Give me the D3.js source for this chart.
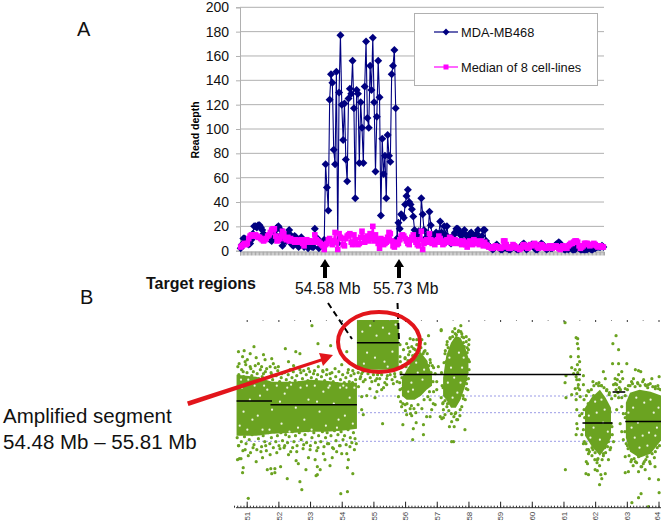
<!DOCTYPE html>
<html><head><meta charset="utf-8">
<script src="https://cdn.jsdelivr.net/npm/d3@7/dist/d3.min.js"></script>
<style>html,body{margin:0;padding:0;background:#fff}svg{display:block}text{font-family:"Liberation Sans",Arial,sans-serif}</style>
</head><body><svg id="c" width="661" height="523"></svg>
<script>
// ---------- Panel A data ----------
const depthTicks = [0,20,40,60,80,100,120,140,160,180,200];
const seriesNames = ["MDA-MB468","Median of 8 cell-lines"];
const mdaLeft = [2,5,10,10,8,6,5,6,9,14,20,20,19,21,21,19,17,14,12,11,12,10,9,8,10,14,17,19,20,18,13,4,7,10,8,14,17,13,5,4,12,11,5,3,8,11,9,3,6,7,2,4,5,3,3,18,8,10,2,6,5,7,9];
const mdaAmplified = [71,52,33,124,145,138,83,71,147,6,130,177,120,91,121,75,57,125,133,129,156,117,43,132,129,72,122,101,72,135,172,109,101,152,132,175,122,65,110,156,126,29,92,63,78,43,95,78,73,145,152,165,117];
const mdaRight = [10,23,18,30,29,27,38,45,50,40,38,34,28,17,9,12,16,10,43,30,17,10,8,14,32,21,13,9,12,15,10,14,24,15,8,20,13,20,11,7,6,9,13,15,18,18,16,13,9,14,17,13,8,10,14,15,13,11,8,14,17,10,7,12,17,17,8,5,4,3,2,1,2,4,5,3,2,1,1,2,3,2,2,1,1,2,4,3,2,1,1,2,3,5,6,3,1,2,3,4,5,4,2,1,1,3,4,6,5,3,2,1,2,3,2,2,3,4,5,6,7,6,4,2,1,1,2,1,2,3,1,1,1,2,3,2,1,1,1,1,1,1,2,2,1,1,2,2,3,3,3,3,4,3];
const medianLeft = [3,4,5,6,5,6,10,12,13,13,12,13,12,11,11,10,9,8,9,10,12,13,15,17,18,18,12,8,9,10,12,16,14,10,9,11,8,10,9,8,7,9,8,7,8,9,6,4,8,9,7,8,7,8,7,13,9,8,7,6,5,4,1];
const medianAmplified = [5,6,9,10,8,5,8,15,7,1,14,11,10,5,4,10,12,13,14,7,5,13,9,6,5,6,11,16,11,7,9,12,8,14,10,20,8,13,9,6,2,10,9,5,6,7,11,15,14,8,4,3,7];
const medianRight = [5,6,9,12,13,12,10,8,6,5,9,11,13,9,7,5,4,9,16,1,6,8,9,7,14,9,6,8,5,7,9,12,10,7,5,6,8,9,7,11,10,6,8,9,7,6,8,6,5,8,7,5,3,6,8,7,5,9,8,6,7,5,8,6,4,7,5,4,3,3,2,2,3,4,3,3,2,2,3,8,8,5,3,2,2,3,5,4,3,2,2,1,2,4,5,4,3,2,3,5,4,5,6,5,3,2,3,5,4,3,2,2,3,4,3,2,3,4,4,3,2,1,3,4,3,2,2,4,5,6,6,7,8,8,7,4,2,3,4,6,6,6,5,4,5,5,6,5,4,3,4,4,3,3];
const mda = [...mdaLeft,...mdaAmplified,...mdaRight];
const median = [...medianLeft,...medianAmplified,...medianRight];

// ---------- Panel B data (Mb, signal) ----------
const segments = [[50.68,51.8,106.7],[51.75,54.48,103],[54.48,55.83,165],[55.83,61.55,133.2],[61.6,62.55,84.7],[62.55,62.95,115.7],[62.95,64.1,86.2]];
const copyLevels = [111.7,95,66.4];
const coreA = [[50.68,133,72],[51.3,131,72],[51.8,126,74],[52.5,126,75],[53,128,76],[53.5,127,76],[54,125,77],[54.48,125,79]];
const coreAmp = [[54.48,187.7,138],[55.8,187.7,138]];
const coreC = [[55.9,128,112],[56.05,138,108],[56.3,150,108],[56.5,155,112],[56.68,148,118],[56.85,132,122]];
const coreD = [[57.2,130,112],[57.3,152,108],[57.45,165,100],[57.6,172,100],[57.75,170,108],[57.9,160,122],[58,150,135]];
const coreE = [[61.68,100,72],[61.88,110,62],[62.15,118,52],[62.33,110,60],[62.5,100,70]];
const coreF = [[62.97,105,70],[63.1,115,56],[63.4,118,50],[63.75,116,54],[64.1,112,68]];
// dots: [Mb, signal]
const edgeAUpper = [[50.72,141],[50.75,133],[50.8,128],[50.84,138],[50.9,131],[50.97,143],[51.01,135],[51.06,129],[51.13,139],[51.16,132],[51.22,127],[51.27,142],[51.33,134],[51.38,129],[51.43,138],[51.49,131],[51.55,126],[51.59,136],[51.66,130],[51.71,124],[51.77,135],[51.82,128],[51.88,123],[51.93,132],[51.98,137],[52.04,126],[52.09,130],[52.16,124],[52.19,135],[52.25,128],[52.31,133],[52.36,125],[52.43,130],[52.47,136],[52.53,127],[52.58,132],[52.65,125],[52.71,135],[52.76,129],[52.83,124],[52.88,133],[52.93,127],[52.99,136],[53.04,130],[53.09,125],[53.14,137],[53.2,128],[53.24,133],[53.29,125],[53.36,131],[53.41,136],[53.46,127],[53.52,133],[53.57,124],[53.64,129],[53.69,135],[53.73,126],[53.81,131],[53.86,124],[53.91,136],[53.96,128],[54.03,133],[54.08,125],[54.13,130],[54.19,135],[54.24,126],[54.29,132],[54.34,125],[54.39,134],[54.44,128]];
const edgeALower = [[50.7,70],[50.74,62],[50.79,74],[50.83,66],[50.88,57],[50.93,71],[50.98,64],[51.03,76],[51.08,68],[51.12,55],[51.17,73],[51.23,63],[51.28,77],[51.32,58],[51.37,69],[51.42,74],[51.47,61],[51.52,72],[51.57,66],[51.62,57],[51.68,75],[51.73,64],[51.78,70],[51.84,60],[51.87,76],[51.92,66],[51.97,72],[52.02,62],[52.08,75],[52.13,67],[52.18,60],[52.23,73],[52.29,65],[52.34,71],[52.39,56],[52.44,76],[52.49,66],[52.54,72],[52.59,62],[52.66,75],[52.72,68],[52.78,59],[52.84,73],[52.89,65],[52.94,77],[53.01,62],[53.06,70],[53.12,75],[53.17,65],[53.21,57],[53.27,72],[53.34,66],[53.39,76],[53.44,61],[53.49,70],[53.54,75],[53.59,64],[53.66,72],[53.71,60],[53.77,77],[53.82,67],[53.88,73],[53.93,62],[53.98,76],[54.04,68],[54.09,72],[54.14,63],[54.2,78],[54.27,70],[54.32,65],[54.37,75],[54.42,69],[54.46,64]];
const edgeAmpFringe = [[54.52,135],[54.6,131],[54.67,136],[54.74,128],[54.83,134],[54.9,130],[54.98,136],[55.06,127],[55.13,133],[55.2,129],[55.28,136],[55.36,125],[55.44,132],[55.52,137],[55.59,128],[55.67,134],[55.75,126]];
const edgeC = [[55.85,146],[55.87,135],[55.83,125],[55.86,106],[55.92,142],[55.9,119],[55.93,104],[55.97,131],[56.0,150],[56.03,141],[56.01,97],[56.06,104],[56.09,147],[56.12,134],[56.15,156],[56.18,144],[56.17,94],[56.2,102],[56.24,152],[56.27,159],[56.31,153],[56.28,99],[56.34,95],[56.38,156],[56.42,163],[56.45,157],[56.41,103],[56.5,160],[56.53,99],[56.57,154],[56.6,108],[56.63,157],[56.66,146],[56.7,154],[56.72,111],[56.75,142],[56.79,148],[56.77,116],[56.82,135],[56.86,142],[56.88,126],[56.9,116]];
const edgeD = [[57.15,135],[57.17,122],[57.14,110],[57.19,104],[57.23,145],[57.21,98],[57.27,157],[57.3,146],[57.26,107],[57.33,166],[57.36,160],[57.34,104],[57.38,97],[57.42,170],[57.46,94],[57.5,176],[57.54,91],[57.57,179],[57.62,173],[57.6,95],[57.66,88],[57.69,177],[57.73,92],[57.76,176],[57.8,171],[57.79,101],[57.84,165],[57.87,161],[57.83,112],[57.9,108],[57.93,166],[57.96,155],[57.94,124],[57.98,118],[58.01,163],[58.03,146],[58.02,138]];
const edgeE = [[61.65,108],[61.67,90],[61.63,78],[61.66,66],[61.72,112],[61.71,64],[61.74,58],[61.8,116],[61.78,104],[61.82,56],[61.84,68],[61.88,118],[61.9,52],[61.96,122],[61.93,58],[61.99,48],[62.04,124],[62.06,45],[62.12,125],[62.09,49],[62.14,42],[62.2,122],[62.22,48],[62.28,120],[62.26,52],[62.36,117],[62.33,55],[62.39,61],[62.44,113],[62.42,66],[62.47,96],[62.5,84],[62.52,109],[62.54,73],[62.49,60]];
const edgeF = [[62.95,112],[62.97,94],[62.94,76],[62.98,64],[63.02,118],[63.04,59],[63.1,122],[63.07,52],[63.13,46],[63.18,124],[63.2,42],[63.26,121],[63.23,49],[63.34,125],[63.31,45],[63.37,51],[63.42,122],[63.45,41],[63.5,126],[63.52,44],[63.58,123],[63.6,48],[63.66,120],[63.64,51],[63.74,124],[63.72,46],[63.82,121],[63.8,54],[63.9,119],[63.87,50],[63.98,122],[63.96,60],[64.06,118],[64.03,62]];
const dotsALow = [[51.05,9.4],[50.87,35],[50.89,40],[50.71,48],[50.77,49],[50.82,49],[51.65,38],[51.79,34],[51.89,35],[51.76,39],[51.89,39],[52.07,41],[52.28,29],[52.68,26],[52.74,18],[52.56,47],[52.63,44],[53.19,32],[53.23,33],[52.87,38],[53.16,48],[53.23,41],[53.32,38],[53.63,42],[53.47,48],[53.97,14],[54.18,16],[54.35,34],[54.18,40],[54.21,48],[53.84,56],[54,54],[54.16,54],[51.74,53],[52.05,59],[52.32,53],[52.58,56],[53,58],[53.42,54],[53.74,59],[54.26,61],[50.75,62],[50.95,58],[51.2,60],[51.45,56],[51.6,62],[51.95,55],[52.2,62],[52.45,60],[52.8,63],[53.25,60],[53.55,64],[53.95,62],[54.4,58],[51.05,52],[52.95,50],[53.7,50],[51.3,46],[51.5,50]];
const dotsAHigh = [[53.06,182],[53.65,162],[53.25,164],[52.22,159],[51.23,161],[51.11,154],[50.92,157],[50.74,156],[50.87,151],[50.95,146],[50.76,144],[51.53,153],[51.58,148],[52.55,156],[52.68,154],[52.32,146],[51.79,149],[51.84,144],[51.37,144],[51.47,141],[51.63,139],[51.74,141],[52,141],[51.11,141],[51.21,136],[52.11,134],[52.37,138],[52.68,138],[52.95,139],[53.26,141],[53.53,138],[53.79,139],[54.16,156],[54,143],[54.21,138],[54.11,148],[50.89,136],[51.53,134],[51.79,133],[53.11,134],[53.63,134],[51.02,148],[51.3,150],[51.9,140],[52.48,142],[52.8,137],[53.4,137],[54.35,137]];
const dotsGap = [[54.63,134],[54.79,138],[55,133],[55.11,129],[55.26,133],[55.42,129],[54.58,129],[54.68,126],[54.95,126],[55.16,123],[55.32,120],[55.53,133],[55.68,131],[55.63,124],[54.63,111],[54.79,112],[55.05,110],[55.26,118],[55.42,123],[54.68,93],[54.63,98],[55.29,84],[54.53,121],[54.89,119],[55.11,116]];
const dotsHump = [[56.16,169],[56.26,168],[56.37,168],[56.05,164],[55.84,163],[55.95,158],[56.21,161],[56.32,158],[56.53,168],[56.74,172],[56.63,164],[55.84,151],[56,149],[56.11,153],[56.21,146],[56.37,163],[56.47,154],[57.14,178],[55.89,101],[56.05,93],[56.21,92],[55.93,83],[56.35,85],[56.26,79],[56.58,83],[56.58,73],[56.24,68],[56,103],[56.16,99],[56.68,91],[56.79,91],[56.89,104],[56.84,98],[57.11,91],[57.21,90],[55.84,118],[55.79,111],[56.79,108],[56.95,103],[57,118],[57,126],[56.95,134],[57.05,141],[55.9,130],[55.95,122],[56.1,160],[56.45,162],[56.6,156],[56.8,145],[56.9,140]];
const dotsD = [[57.76,182],[57.14,177],[57.58,174],[57.79,174],[57.93,171],[58.02,168],[57.42,169],[57.32,163],[58,158],[57.26,154],[58,148],[58,129],[57.93,119],[57.84,109],[57.74,98],[57.63,88],[57.55,81],[57.89,78],[57.53,66],[57.47,66],[57.26,93],[57.16,89],[57.4,81],[57.47,86],[57.58,94],[57.32,101],[57.2,120],[57.2,105],[57.68,176],[57.5,171],[57.85,170],[57.96,160],[57.95,135],[57.92,128]];
const dotsCol61 = [[61.05,185],[61.4,170],[61.45,169],[61.44,164],[61.47,159],[61.23,151],[61.47,151],[61.51,146],[61.44,143],[61.26,140],[61.37,138],[61.51,138],[61.32,134],[61.08,132],[61.05,125],[61.42,128],[61.47,123],[61.37,119],[61.42,114],[61.08,110],[61.26,113],[61.51,118],[61.63,132],[61.42,98],[61.51,92],[61.42,84],[61.44,79],[61.4,73],[61.06,38],[61.45,135],[61.4,131],[61.5,128],[61.46,120],[61.4,108]];
const dotsE = [[61.93,126],[62.11,122],[62.26,136],[62.32,129],[61.63,123],[61.77,117],[61.53,111],[61.65,98],[61.58,94],[61.72,46],[61.79,54],[61.76,44],[61.71,34],[61.79,33],[62,38],[62.07,37],[62.18,33],[62.21,29],[62.32,34],[62.14,23],[62.07,48],[62.26,54],[62.47,58],[62.42,48],[61.58,73],[61.63,64],[61.79,58],[62.58,66],[62.53,81],[62.37,118],[62.68,98],[61.9,60],[62,55],[62.3,60],[61.95,112],[62.45,115],[62.2,122]];
const dotsG = [[62.66,172],[62.56,164],[62.74,158],[62.55,144],[62.74,144],[63,144],[62.84,136],[62.74,133],[62.63,129],[62.79,126],[62.68,123],[62.58,123],[62.87,129],[62.63,112],[62.74,110],[62.84,110],[62.66,118],[62.7,128],[62.76,120],[62.72,115],[62.64,124],[62.8,118]];
const dotsF = [[63.27,138],[63.37,137],[63.44,136],[63.21,129],[63.53,128],[63.79,129],[64.02,131],[63.68,123],[64,119],[62.95,119],[62.84,101],[62.89,94],[62.79,84],[62.84,76],[62.89,68],[62.95,51],[63.05,36],[62.95,35],[63.37,36],[63.58,38],[63.71,29],[64,28],[63.89,41],[64.02,15],[63.45,14],[63.37,10],[63.16,5],[63.68,1],[63.27,46],[63.47,41],[63.74,44],[63.05,122],[63.15,126],[63.35,124],[63.6,122],[63.9,121],[63.15,48],[63.55,46],[63.9,56],[63.02,62],[62.95,90]];
const speckles = [[50.85,120],[51.05,128],[51.1,108],[51.25,122],[51.35,92],[51.5,78],[51.65,118],[51.8,98],[51.95,122],[52.1,84],[52.2,114],[52.35,76],[52.4,123],[52.55,100],[52.7,120],[52.82,88],[52.95,108],[53.05,78],[53.15,122],[53.3,96],[53.42,116],[53.5,82],[53.62,122],[53.75,104],[53.85,80],[53.95,120],[54.1,92],[54.25,110],[54.35,84],[54.4,120],[50.78,82],[50.9,96],[51.02,78],[51.18,88],[51.72,78],[51.42,112],[52.05,106],[52.62,80],[53.22,106],[53.9,88],[54.15,120],[50.82,128],[51.55,122],[52.28,120],[52.9,122],[53.58,120],[54.05,122],[54.65,176],[54.9,182],[55.1,172],[55.3,180],[55.5,174],[55.7,183],[54.8,155],[55.05,150],[55.35,146],[55.6,156],[54.7,144],[55.45,141],[56.2,125],[56.4,135],[56.55,128],[56.25,118],[56.1,116],[56.6,138],[56.35,145],[57.4,150],[57.55,130],[57.7,155],[57.65,115],[57.8,140],[57.35,125],[57.5,110],[57.85,150],[57.45,140],[57.75,125],[62.05,95],[62.25,85],[61.95,80],[62.3,98],[61.8,92],[62.15,68],[62.4,76],[62,106],[61.85,70],[62.2,108],[63.2,100],[63.35,85],[63.55,105],[63.7,75],[63.85,95],[63.25,70],[63.5,72],[63.95,80],[63.15,80],[63.4,60],[63.65,62],[63.05,95],[63.3,110],[63.75,108],[64,100],[63.9,72]];
const chromTicks = d3.range(51,65);

// ---------- Scales ----------
const svg = d3.select("#c");
const yA = d3.scaleLinear().domain([0,200]).range([250.7,7.3]);
const xA = d3.scaleBand().domain(d3.range(mda.length)).range([240,604]);
const cx = i => xA(i)+xA.bandwidth()/2;
const xB = d3.scaleLinear().domain([51,64]).range([246.7,658.5]);
const yB = d3.scaleLinear().domain([0,187.7]).range([507.7,320]);

// ---------- Panel A ----------
const gA = svg.append("g");
gA.append("g").selectAll("line").data(depthTicks.slice(1)).join("line")
  .attr("x1",240).attr("x2",604).attr("y1",d=>yA(d)).attr("y2",d=>yA(d))
  .attr("stroke","#b0b0b0").attr("stroke-width",1);
const axL = gA.append("g").attr("transform","translate(240,0)").call(d3.axisLeft(yA).tickValues(depthTicks).tickSize(4).tickPadding(7));
axL.selectAll("text").attr("font-size",14).attr("fill","#111");
axL.selectAll("line,path").attr("stroke","#b0b0b0");
const axX = gA.append("g").attr("transform","translate(0,251.5)").call(d3.axisBottom(xA).tickSize(4).tickFormat(""));
axX.selectAll("line").attr("stroke","#aaa");
axX.selectAll("path").attr("stroke","#aaa");
gA.append("text").attr("transform","translate(199,130) rotate(-90)").attr("text-anchor","middle").attr("font-size",10.5).attr("font-weight","bold").text("Read depth");

const lineA = d3.line().x((d,i)=>cx(i)).y(d=>yA(d));
function diamondPath(r){return `M0,${-r}L${r},0L0,${r}L${-r},0Z`;}
gA.append("path").attr("d",lineA(mda)).attr("fill","none").attr("stroke","#000080").attr("stroke-width",1.1);
gA.append("g").selectAll("path").data(mda).join("path").attr("d",diamondPath(4))
  .attr("transform",(d,i)=>`translate(${cx(i)},${yA(d)})`).attr("fill","#000080");
gA.append("path").attr("d",lineA(median)).attr("fill","none").attr("stroke","#ff00ff").attr("stroke-width",2);
gA.append("g").selectAll("rect").data(median).join("rect")
  .attr("x",(d,i)=>cx(i)-2.8).attr("y",d=>yA(d)-2.8).attr("width",5.6).attr("height",5.6).attr("fill","#ff00ff");

// legend
const lg = gA.append("g");
lg.append("rect").attr("x",414.5).attr("y",13.5).attr("width",183).attr("height",72).attr("fill","#fff").attr("stroke","#b0b0b0");
[[32,"#000080"],[67,"#ff00ff"]].forEach(([y,c],k)=>{
  lg.append("line").attr("x1",434).attr("x2",458).attr("y1",y).attr("y2",y).attr("stroke",c).attr("stroke-width",1.2);
  if(k==0) lg.append("path").attr("d",diamondPath(3.4)).attr("transform",`translate(446,${y})`).attr("fill",c);
  else lg.append("rect").attr("x",443.5).attr("y",y-2.5).attr("width",5).attr("height",5).attr("fill",c);
  lg.append("text").attr("x",461).attr("y",y+4.5).attr("font-size",12.8).attr("fill","#111").text(seriesNames[k]);
});

// ---------- Panel B ----------
const gB = svg.append("g");
gB.append("g").selectAll("line").data(copyLevels).join("line")
  .attr("x1",246).attr("x2",661).attr("y1",d=>yB(d)).attr("y2",d=>yB(d))
  .attr("stroke","#9a9ae6").attr("stroke-width",1).attr("stroke-dasharray","2 2");
const green = "#6ba321";
const area = d3.area().x(d=>xB(d[0])).y0(d=>yB(d[2])).y1(d=>yB(d[1]));
[coreA,coreAmp,coreC,coreD,coreE,coreF].forEach(c=>gB.append("path").attr("d",area(c)).attr("fill",green));
const allDots = [...edgeAUpper,...edgeALower,...edgeAmpFringe,...edgeC,...edgeD,...edgeE,...edgeF,...dotsALow,...dotsAHigh,...dotsGap,...dotsHump,...dotsD,...dotsCol61,...dotsE,...dotsG,...dotsF];
gB.append("g").selectAll("circle").data(allDots).join("circle")
  .attr("cx",d=>xB(d[0])).attr("cy",d=>yB(d[1])).attr("r",1.6).attr("fill",green);
gB.append("g").selectAll("circle").data(speckles).join("circle")
  .attr("cx",d=>xB(d[0])).attr("cy",d=>yB(d[1])).attr("r",1.1).attr("fill","#eef5e2");
gB.append("g").selectAll("line").data(segments).join("line")
  .attr("x1",d=>xB(d[0])).attr("x2",d=>xB(d[1])).attr("y1",d=>yB(d[2])).attr("y2",d=>yB(d[2]))
  .attr("stroke","#000").attr("stroke-width",1.6);

// bottom and top rulers
const minor = d3.range(506,641).map(d=>d/10);
const botMinor = gB.append("g").attr("transform","translate(0,507.7)").call(d3.axisBottom(xB).tickValues(minor).tickSize(-2).tickFormat(""));
botMinor.selectAll("line").attr("stroke","#333");
botMinor.select("path").attr("d","M236,0H661").attr("stroke","#333");
const botMajor = gB.append("g").attr("transform","translate(0,507.7)").call(d3.axisBottom(xB).tickValues(chromTicks).tickSize(-6).tickFormat(d3.format("d")));
botMajor.select("path").remove();
botMajor.selectAll("line").attr("stroke","#222");
botMajor.selectAll("text").attr("transform","rotate(-90)").attr("x",-4).attr("y",d=>d==64?-1.5:0).attr("dy","0.33em").attr("text-anchor","end").attr("font-size",8).attr("fill","#444");
const topMajor = gB.append("g").attr("transform","translate(0,320)").call(d3.axisBottom(xB).tickValues(chromTicks).tickSize(2).tickFormat(""));
topMajor.select("path").remove(); topMajor.selectAll("line").attr("stroke","#333");
const topMinor = gB.append("g").attr("transform","translate(0,320)").call(d3.axisBottom(xB).tickValues(chromTicks.filter(d=>d<64).map(d=>d+.5)).tickSize(1).tickFormat(""));
topMinor.select("path").remove(); topMinor.selectAll("line").attr("stroke","#888");

// ---------- Annotations ----------
const ann = svg.append("g");
[["A",77,36,20,"normal"],["B",80,304,20,"normal"],["Target regions",146,289,16,"bold"],["54.58 Mb",295,294,15.7,"normal"],["55.73 Mb",373,294,15.7,"normal"],["Amplified segment",3,423,20.5,"normal"],["54.48 Mb \u2013 55.81 Mb",3,449,20.5,"normal"]]
 .forEach(([t,x,y,s,w])=>ann.append("text").attr("x",x).attr("y",y).attr("font-size",s).attr("font-weight",w).attr("fill","#111").text(t));
[325,399].forEach(x=>{
  ann.append("path").attr("d",`M${x},259L${x+5},267H${x+2}V278H${x-2}V267H${x-5}Z`).attr("fill","#000");
});
[[328,303,352,339],[397.5,303,399,341]].forEach(([a,b,c,d])=>ann.append("line").attr("x1",a).attr("y1",b).attr("x2",c).attr("y2",d).attr("stroke","#000").attr("stroke-width",2).attr("stroke-dasharray","6 4"));
ann.append("ellipse").attr("cx",379).attr("cy",342).attr("rx",41).attr("ry",30).attr("fill","none").attr("stroke","#e2151b").attr("stroke-width",4);
ann.append("path").attr("d","M187,401.5L321,358.5L319,353L333,355L323,366L321.5,361.5L188.5,406Z").attr("fill","#e2151b");
</script></body></html>
